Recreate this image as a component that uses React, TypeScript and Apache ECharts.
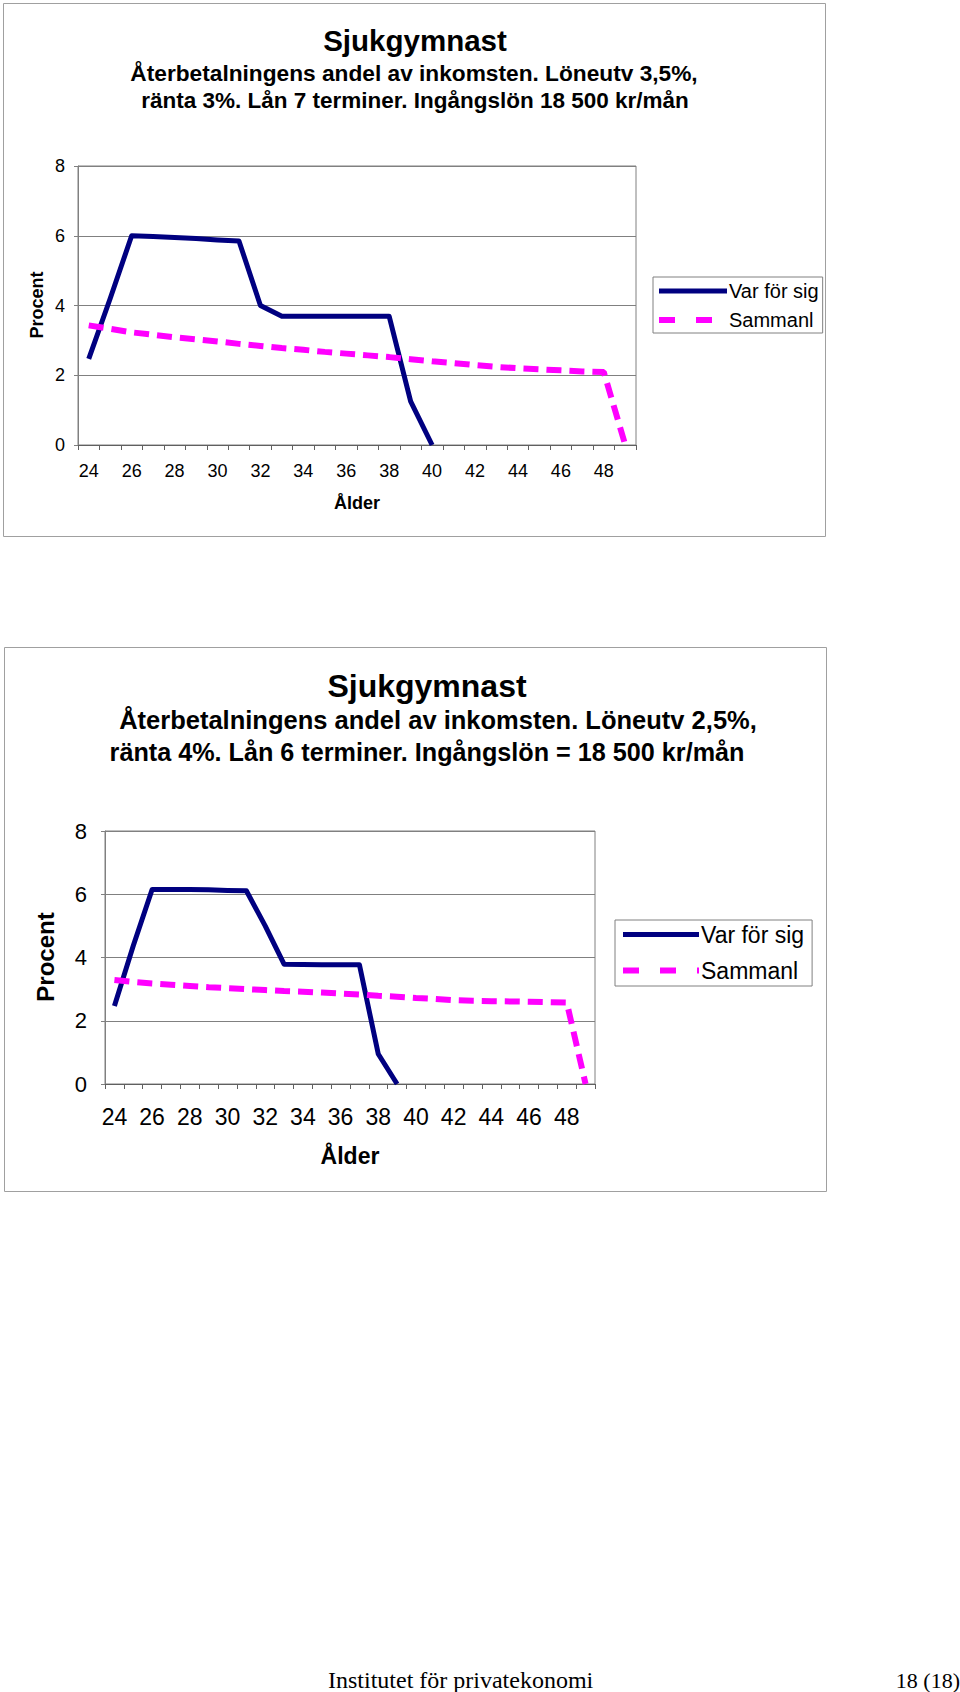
import React, { useEffect, useRef } from "react";
import * as echarts from "echarts";

const ages = ["24","25","26","27","28","29","30","31","32","33","34","35","36","37","38","39","40","41","42","43","44","45","46","47","48","49"];

const varForSig1 = [2.47, 4.2, 6.0, 5.98, 5.95, 5.92, 5.88, 5.85, 4.0, 3.69, 3.69, 3.69, 3.69, 3.69, 3.69, 1.25, 0, null, null, null, null, null, null, null, null, null];
const sammanl1 = [3.43, 3.33, 3.23, 3.16, 3.09, 3.03, 2.97, 2.9, 2.84, 2.78, 2.73, 2.67, 2.62, 2.57, 2.52, 2.46, 2.4, 2.35, 2.29, 2.24, 2.2, 2.17, 2.14, 2.11, 2.09, 0];

const varForSig2 = [2.47, 4.37, 6.15, 6.15, 6.15, 6.14, 6.12, 6.11, 5.0, 3.79, 3.78, 3.77, 3.77, 3.77, 0.95, 0, null, null, null, null, null, null, null, null, null, null];
const sammanl2 = [3.29, 3.23, 3.18, 3.14, 3.1, 3.06, 3.03, 3.0, 2.97, 2.94, 2.92, 2.89, 2.86, 2.83, 2.79, 2.76, 2.72, 2.69, 2.65, 2.63, 2.62, 2.61, 2.6, 2.59, 2.58, 0];

const seriesNames = ["Var för sig", "Sammanl"];
const yTicks = { min: 0, max: 8, interval: 2 };

const title1 = "Sjukgymnast";
const sub1a = "Återbetalningens andel av inkomsten. Löneutv 3,5%,";
const sub1b = "ränta 3%. Lån 7 terminer. Ingångslön 18 500 kr/mån";
const title2 = "Sjukgymnast";
const sub2a = "Återbetalningens andel av inkomsten. Löneutv 2,5%,";
const sub2b = "ränta 4%. Lån 6 terminer. Ingångslön = 18 500 kr/mån";
const footerLeft = "Institutet för privatekonomi";
const footerRight = "18 (18)";

const SANS = "Liberation Sans, Arial, sans-serif";
const SERIF = "Liberation Serif, Times New Roman, serif";
const BLUE = "#000080";
const PINK = "#FF00FF";
const GRID = "#808080";

function xAxisCfg(gridIndex: number, fs: number, margin: number, nameGap: number) {
  return {
    type: "category",
    gridIndex,
    data: ages,
    boundaryGap: true,
    axisLine: { show: true, lineStyle: { color: "#606060", width: 1 } },
    axisTick: { show: true, interval: 0, length: 5, lineStyle: { color: "#606060" } },
    axisLabel: { interval: 1, color: "#000", fontSize: fs, fontFamily: SANS, margin },
    name: "Ålder",
    nameLocation: "middle",
    nameGap,
    nameTextStyle: { color: "#000", fontSize: fs, fontWeight: "bold", fontFamily: SANS },
  };
}

function yAxisCfg(gridIndex: number, fs: number, margin: number) {
  return {
    type: "value",
    gridIndex,
    min: yTicks.min,
    max: yTicks.max,
    interval: yTicks.interval,
    axisLine: { show: true, lineStyle: { color: GRID, width: 1 } },
    axisTick: { show: true, length: 4, lineStyle: { color: GRID } },
    splitLine: { show: true, lineStyle: { color: GRID, width: 1 } },
    axisLabel: { color: "#000", fontSize: fs, fontFamily: SANS, margin },
  };
}

function legendCfg(left: number, top: number, itemWidth: number, fs: number, gap: number, pad: number[]) {
  return {
    orient: "vertical",
    left,
    top,
    itemWidth,
    itemHeight: 12,
    itemGap: gap,
    padding: pad,
    borderColor: GRID,
    borderWidth: 1,
    backgroundColor: "#fff",
    itemStyle: { color: "transparent", borderWidth: 0, borderColor: "transparent" },
    lineStyle: { width: 5 },
    textStyle: { color: "#000", fontSize: fs, fontFamily: SANS, padding: [0, 0, 0, -3] },
    data: [
      { name: seriesNames[0] },
      { name: seriesNames[1], lineStyle: { type: [16, 21], width: 6 } },
    ],
  };
}

function lineSeries(name: string, data: (number | null)[], idx: number, pink: boolean) {
  return {
    type: "line",
    name,
    xAxisIndex: idx,
    yAxisIndex: idx,
    data,
    symbol: "none",
    connectNulls: false,
    lineStyle: pink
      ? { color: PINK, width: 6, type: [15, 8], cap: "butt" }
      : { color: BLUE, width: 5, cap: "butt", join: "round" },
    itemStyle: { color: pink ? PINK : BLUE },
  };
}

function txt(text: string, x: number, y: number, fs: number, bold: boolean, family = SANS, align = "center", rotation = 0) {
  return {
    type: "text",
    x,
    y,
    rotation,
    style: {
      text,
      fill: "#000",
      fontSize: fs,
      fontWeight: bold ? "bold" : "normal",
      fontFamily: family,
      align,
      verticalAlign: "middle",
    },
  };
}

export default function App() {
  const ref = useRef<HTMLDivElement>(null);
  useEffect(() => {
    if (!ref.current) return;
    const chart = echarts.init(ref.current, null, { renderer: "svg" });
    chart.setOption({
      animation: false,
      backgroundColor: "#fff",
      grid: [
        { left: 78, top: 166, width: 558, height: 279, show: true, borderColor: GRID, borderWidth: 1, backgroundColor: "transparent" },
        { left: 105, top: 831, width: 490, height: 253, show: true, borderColor: GRID, borderWidth: 1, backgroundColor: "transparent" },
      ],
      xAxis: [xAxisCfg(0, 18, 17, 49), xAxisCfg(1, 23, 21, 60)],
      yAxis: [yAxisCfg(0, 18, 13), yAxisCfg(1, 22, 18)],
      legend: [
        legendCfg(653, 277, 68, 20, 9, [4, 4, 3, 3]),
        legendCfg(615, 920, 76, 23, 13, [3, 8, 4, 5]),
      ],
      series: [
        lineSeries(seriesNames[0], varForSig1, 0, false),
        lineSeries(seriesNames[1], sammanl1, 0, true),
        lineSeries(seriesNames[0], varForSig2, 1, false),
        lineSeries(seriesNames[1], sammanl2, 1, true),
      ],
      graphic: [
        { type: "rect", shape: { x: 3.5, y: 3.5, width: 822, height: 533 }, style: { fill: "none", stroke: "#a0a0a0", lineWidth: 1 }, z: -1 },
        { type: "rect", shape: { x: 4.5, y: 647.5, width: 822, height: 544 }, style: { fill: "none", stroke: "#a0a0a0", lineWidth: 1 }, z: -1 },
        txt(title1, 415, 40, 29.5, true),
        txt(sub1a, 414, 73, 22.7, true),
        txt(sub1b, 415, 100, 22.5, true),
        txt("Procent", 37, 305, 18, true, SANS, "center", Math.PI / 2),
        txt(title2, 427, 686, 32, true),
        txt(sub2a, 438, 720, 25.5, true),
        txt(sub2b, 427, 752, 25.2, true),
        txt("Procent", 45, 957, 24, true, SANS, "center", Math.PI / 2),
        txt(footerLeft, 328, 1680, 24, false, SERIF, "left"),
        txt(footerRight, 960, 1680, 22, false, SERIF, "right"),
      ],
    });
    return () => chart.dispose();
  }, []);
  return (
    <div
      ref={ref}
      style={{ position: "absolute", left: 0, top: 0, width: 960, height: 1692 }}
    />
  );
}
